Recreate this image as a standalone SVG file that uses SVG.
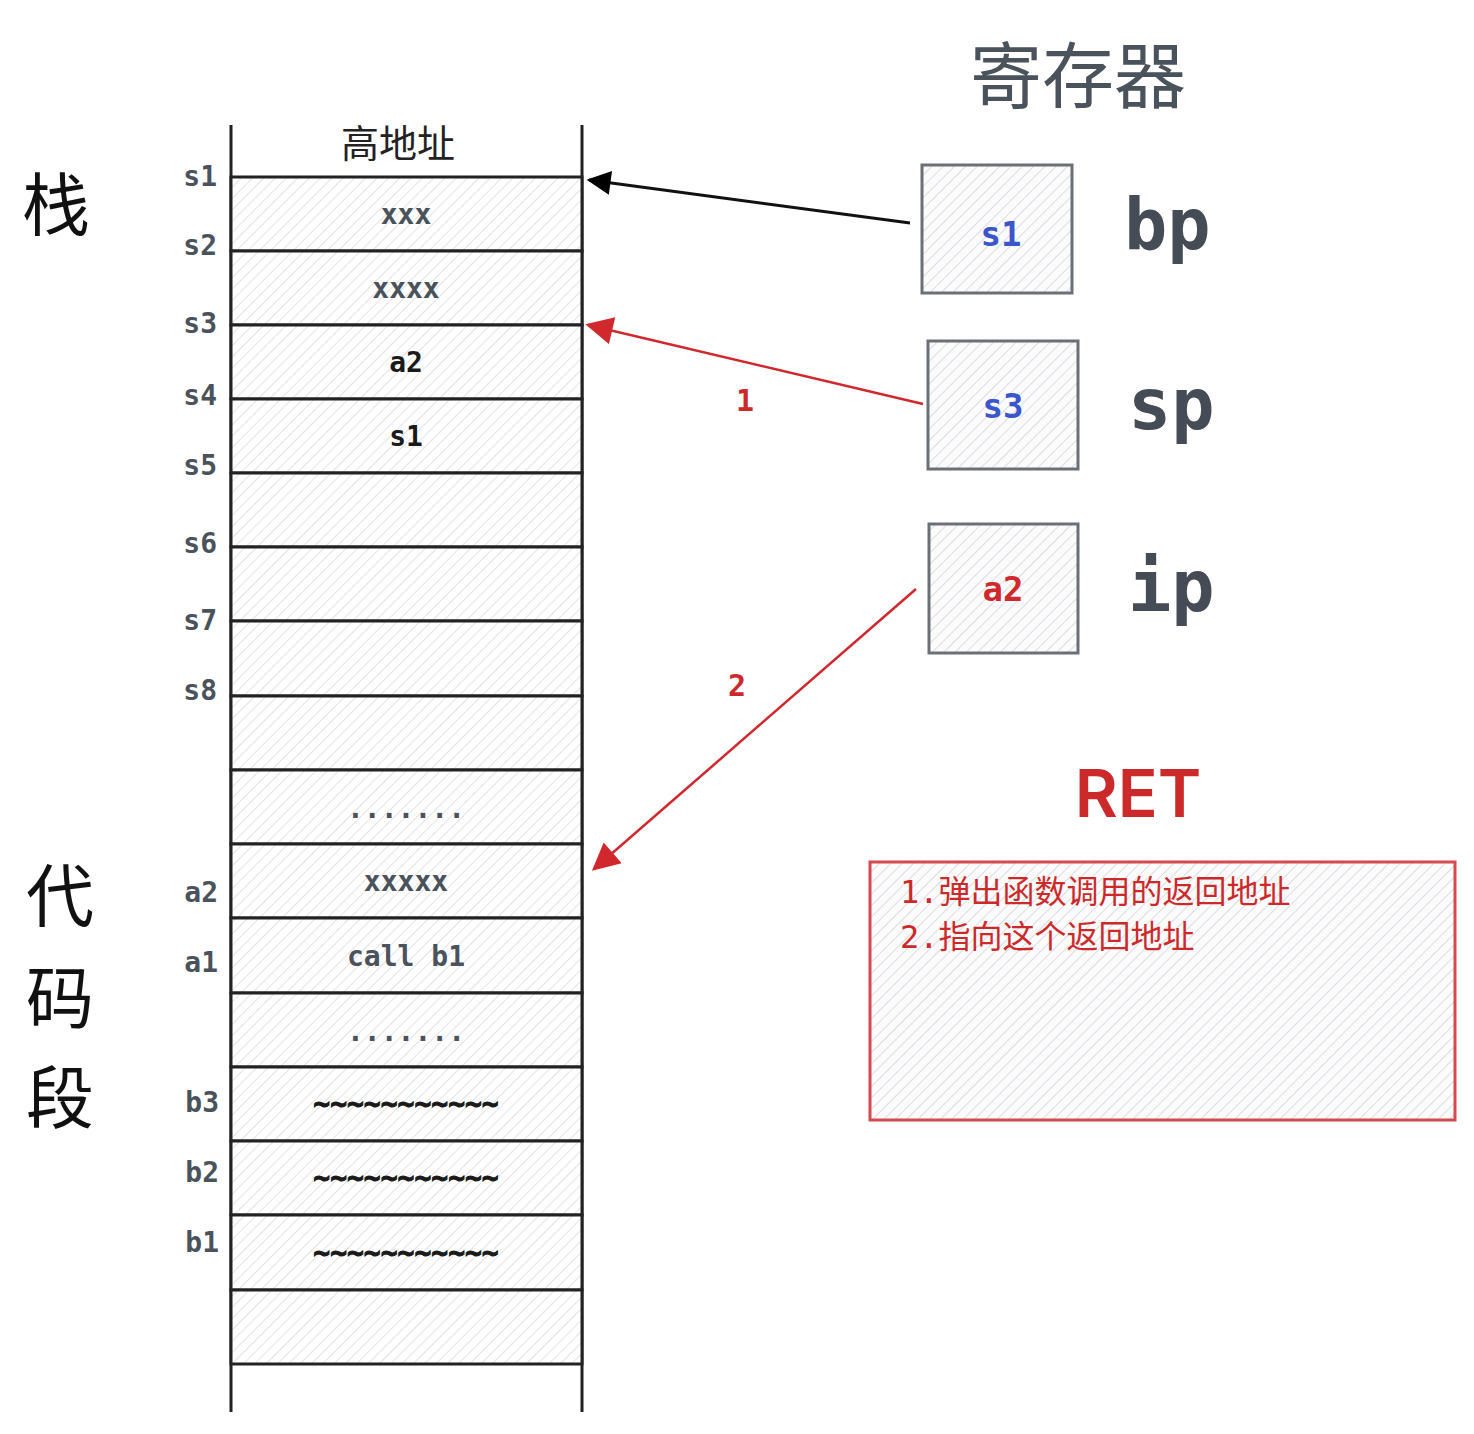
<svg xmlns="http://www.w3.org/2000/svg" width="1474" height="1434" viewBox="0 0 1474 1434">
<defs>
<pattern id="hatch" patternUnits="userSpaceOnUse" width="8" height="8" patternTransform="rotate(45)">
<rect width="8" height="8" fill="#ffffff"/>
<line x1="0" y1="0" x2="0" y2="8" stroke="#e3e3e3" stroke-width="2"/>
</pattern>
<pattern id="hatch2" patternUnits="userSpaceOnUse" width="8" height="8" patternTransform="rotate(45)">
<rect width="8" height="8" fill="#fbfbfc"/>
<line x1="0" y1="0" x2="0" y2="8" stroke="#dadde2" stroke-width="2"/>
</pattern>
<marker id="ahBlack" viewBox="0 0 10 10" refX="9" refY="5" markerWidth="9" markerHeight="8" markerUnits="strokeWidth" orient="auto">
<path d="M0,0 L10,5 L0,10 z" fill="#000"/>
</marker>
<marker id="ahRed" viewBox="0 0 10 10" refX="9" refY="5" markerWidth="12" markerHeight="11" markerUnits="strokeWidth" orient="auto">
<path d="M0,0 L10,5 L0,10 z" fill="#d0282c"/>
</marker>
</defs>
<style>
.mono{font-family:"DejaVu Sans Mono","Liberation Mono",monospace;}
.cjk{font-family:"Noto Sans CJK SC","Noto Sans",sans-serif;}
.lbl{font-size:28px;fill:#4a525c;text-anchor:end;dominant-baseline:central;font-weight:bold;}
.cell{font-size:28px;fill:#4a525c;text-anchor:middle;dominant-baseline:central;font-weight:bold;}
.dark{fill:#1a1a1a;}
.row{fill:url(#hatch);stroke:#222;stroke-width:3;}
.reg{fill:url(#hatch2);stroke:#6b7078;stroke-width:3;}
.regname{font-size:72px;fill:#454c55;dominant-baseline:central;font-weight:bold;}
.big{font-size:68px;fill:#111;dominant-baseline:central;text-anchor:middle;}
</style>
<rect width="1474" height="1434" fill="#fff"/>

<g id="title">
<text x="1078" y="70" class="cjk" font-size="72" fill="#4a525c" text-anchor="middle" dominant-baseline="central">寄存器</text>
</g>
<g id="stack-label"><text x="56" y="200" class="cjk big">栈</text></g>
<g id="code-label">
<text x="60" y="891" class="cjk big">代</text>
<text x="60" y="993" class="cjk big">码</text>
<text x="60" y="1093" class="cjk big">段</text>
</g>

<g id="stack">
<line x1="231" y1="125" x2="231" y2="1412" stroke="#222" stroke-width="3"/>
<line x1="582" y1="125" x2="582" y2="1412" stroke="#222" stroke-width="3"/>
<text x="398" y="140" class="cjk" font-size="38" fill="#222" text-anchor="middle" dominant-baseline="central">高地址</text>
<g id="row1"><rect x="231" y="177" width="351" height="74" class="row"/><text x="406" y="214" class="mono cell">xxx</text></g>
<g id="row2"><rect x="231" y="251" width="351" height="74" class="row"/><text x="406" y="288" class="mono cell">xxxx</text></g>
<g id="row3"><rect x="231" y="325" width="351" height="74" class="row"/><text x="406" y="362" class="mono cell dark">a2</text></g>
<g id="row4"><rect x="231" y="399" width="351" height="74" class="row"/><text x="406" y="436" class="mono cell dark">s1</text></g>
<g id="row5"><rect x="231" y="473" width="351" height="74" class="row"/></g>
<g id="row6"><rect x="231" y="547" width="351" height="74" class="row"/></g>
<g id="row7"><rect x="231" y="621" width="351" height="75" class="row"/></g>
<g id="row8"><rect x="231" y="696" width="351" height="74" class="row"/></g>
<g id="row9"><rect x="231" y="770" width="351" height="74" class="row"/><text x="406" y="808" class="mono cell" fill="#333">.......</text></g>
<g id="row10"><rect x="231" y="844" width="351" height="74" class="row"/><text x="406" y="881" class="mono cell">xxxxx</text></g>
<g id="row11"><rect x="231" y="918" width="351" height="75" class="row"/><text x="406" y="956" class="mono cell">call b1</text></g>
<g id="row12"><rect x="231" y="993" width="351" height="74" class="row"/><text x="406" y="1031" class="mono cell" fill="#333">.......</text></g>
<g id="row13"><rect x="231" y="1067" width="351" height="74" class="row"/><text x="406" y="1103" class="mono cell dark" font-size="22" stroke="#1a1a1a" stroke-width="1">~~~~~~~~~~~</text></g>
<g id="row14"><rect x="231" y="1141" width="351" height="74" class="row"/><text x="406" y="1177" class="mono cell dark" font-size="22" stroke="#1a1a1a" stroke-width="1">~~~~~~~~~~~</text></g>
<g id="row15"><rect x="231" y="1215" width="351" height="75" class="row"/><text x="406" y="1252" class="mono cell dark" font-size="22" stroke="#1a1a1a" stroke-width="1">~~~~~~~~~~~</text></g>
<g id="row16"><rect x="231" y="1290" width="351" height="74" class="row"/></g>
</g>

<g id="addr-labels">
<text x="217" y="176" class="mono lbl">s1</text>
<text x="217" y="245" class="mono lbl">s2</text>
<text x="217" y="323" class="mono lbl">s3</text>
<text x="217" y="395" class="mono lbl">s4</text>
<text x="217" y="465" class="mono lbl">s5</text>
<text x="217" y="543" class="mono lbl">s6</text>
<text x="217" y="620" class="mono lbl">s7</text>
<text x="217" y="690" class="mono lbl">s8</text>
<text x="218" y="892" class="mono lbl">a2</text>
<text x="218" y="962" class="mono lbl">a1</text>
<text x="219" y="1102" class="mono lbl">b3</text>
<text x="219" y="1172" class="mono lbl">b2</text>
<text x="219" y="1242" class="mono lbl">b1</text>
</g>

<g id="reg-bp">
<rect x="922" y="165" width="150" height="128" class="reg"/>
<text x="1001" y="234" class="mono" font-size="34" font-weight="bold" fill="#3a56cc" text-anchor="middle" dominant-baseline="central">s1</text>
<text x="1124" y="224" class="mono regname">bp</text>
</g>
<g id="reg-sp">
<rect x="928" y="341" width="150" height="128" class="reg"/>
<text x="1003" y="406" class="mono" font-size="34" font-weight="bold" fill="#3a56cc" text-anchor="middle" dominant-baseline="central">s3</text>
<text x="1128" y="404" class="mono regname">sp</text>
</g>
<g id="reg-ip">
<rect x="929" y="524" width="149" height="129" class="reg"/>
<text x="1003" y="589" class="mono" font-size="34" font-weight="bold" fill="#d0282c" text-anchor="middle" dominant-baseline="central">a2</text>
<text x="1128" y="586" class="mono regname">ip</text>
</g>

<g id="ret">
<text x="1138" y="793" font-family="Inter,'Noto Sans',sans-serif" font-size="66" font-weight="600" fill="#cc2a2a" text-anchor="middle" dominant-baseline="central">RET</text>
<rect x="870" y="862" width="585" height="258" fill="url(#hatch2)" stroke="#d44a4e" stroke-width="3"/>
<text x="900" y="892" font-family="'DejaVu Sans Mono','Noto Sans CJK SC',monospace" font-size="32" fill="#cc2a2a" dominant-baseline="central">1.弹出函数调用的返回地址</text>
<text x="900" y="937" font-family="'DejaVu Sans Mono','Noto Sans CJK SC',monospace" font-size="32" fill="#cc2a2a" dominant-baseline="central">2.指向这个返回地址</text>
</g>

<g id="connectors">
<line x1="910" y1="223" x2="589" y2="180" stroke="#111" stroke-width="3" marker-end="url(#ahBlack)"/>
<line x1="923" y1="404" x2="588" y2="325" stroke="#d0282c" stroke-width="2.5" marker-end="url(#ahRed)"/>
<text x="745" y="400" class="mono" font-size="30" font-weight="bold" fill="#cc2a2a" text-anchor="middle" dominant-baseline="central">1</text>
<line x1="916" y1="589" x2="594" y2="869" stroke="#d0282c" stroke-width="2.5" marker-end="url(#ahRed)"/>
<text x="737" y="685" class="mono" font-size="30" font-weight="bold" fill="#cc2a2a" text-anchor="middle" dominant-baseline="central">2</text>
</g>
</svg>
